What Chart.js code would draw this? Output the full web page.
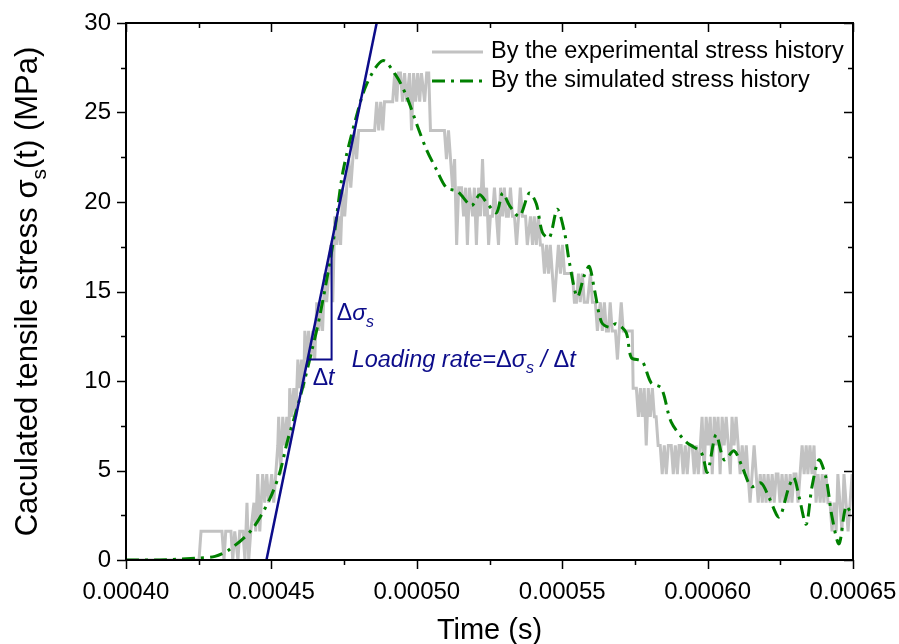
<!DOCTYPE html>
<html>
<head>
<meta charset="utf-8">
<title>Caculated tensile stress</title>
<script src="https://cdn.jsdelivr.net/npm/chart.js@4.4.1/dist/chart.umd.min.js"></script>
<style>
  html, body { margin: 0; padding: 0; background: #fff; }
  #wrap { width: 899px; height: 644px; }
</style>
</head>
<body>
<div id="wrap"><canvas id="stress-chart" width="899" height="644"></canvas></div>
<script>
// ------------------------------------------------------
// Data (time in microseconds, stress in MPa)
// ------------------------------------------------------
const expTime = [
  400.0, 425.1, 425.8, 433.0, 433.7, 434.3, 436.1, 436.7, 437.4, 438.5, 439.1, 440.2, 440.9, 441.6, 442.2, 442.9,
  444.0, 444.6, 445.3, 446.0, 447.0, 447.7, 448.4, 449.1, 450.1, 450.8, 451.5, 452.2, 452.5, 453.2, 453.9, 454.6,
  455.3, 456.0, 456.3, 457.0, 457.7, 458.4, 459.1, 459.8, 460.4, 461.1, 461.5, 462.2, 462.8, 463.5, 464.2, 464.9,
  465.6, 466.3, 467.0, 467.6, 468.3, 469.0, 469.7, 470.4, 471.1, 471.8, 472.5, 473.1, 473.8, 474.5, 475.2, 475.9,
  476.6, 477.3, 478.0, 478.6, 479.3, 480.0, 485.5, 486.2, 486.9, 487.6, 488.3, 488.9, 491.7, 492.4, 493.1, 493.7,
  494.4, 495.1, 495.8, 496.5, 497.5, 498.2, 498.9, 499.6, 500.3, 501.0, 501.6, 502.7, 503.4, 504.1, 504.7, 509.5,
  510.2, 510.9, 511.6, 512.3, 513.0, 513.7, 514.4, 515.4, 516.1, 516.8, 517.4, 518.1, 519.2, 519.8, 520.5, 521.2,
  521.9, 522.6, 523.3, 524.0, 524.7, 525.3, 526.0, 526.7, 527.4, 528.1, 528.8, 529.5, 530.1, 530.8, 531.5, 532.2,
  532.9, 533.6, 534.3, 535.0, 535.6, 536.3, 537.4, 538.0, 539.1, 539.8, 540.4, 541.1, 541.8, 542.5, 543.2, 543.9,
  544.6, 545.3, 545.9, 546.6, 547.3, 548.0, 548.7, 549.4, 550.1, 550.8, 551.8, 552.5, 553.5, 554.2, 554.9, 555.6,
  556.2, 556.9, 557.6, 558.7, 559.7, 560.4, 561.4, 562.1, 563.1, 563.8, 564.5, 565.2, 565.9, 566.5, 567.2, 568.3,
  569.0, 569.6, 570.3, 571.0, 572.0, 574.1, 574.4, 575.5, 576.2, 576.9, 577.5, 578.2, 578.9, 579.6, 580.3, 581.0,
  581.7, 582.3, 583.0, 583.7, 584.4, 585.1, 585.8, 586.5, 587.5, 588.2, 588.9, 589.6, 590.2, 590.9, 591.6, 592.3,
  593.0, 593.7, 594.7, 595.4, 596.1, 596.8, 597.5, 598.1, 598.8, 599.5, 600.2, 600.9, 601.6, 602.3, 603.0, 603.6,
  604.3, 605.0, 605.7, 606.4, 607.1, 607.8, 608.4, 609.1, 609.8, 610.5, 611.2, 611.9, 612.6, 613.3, 613.9, 614.6,
  615.3, 616.0, 616.7, 617.4, 618.1, 618.8, 619.4, 620.1, 620.8, 621.5, 622.2, 622.9, 623.6, 624.2, 624.9, 625.6,
  626.3, 627.0, 627.7, 628.4, 629.0, 629.7, 630.4, 631.1, 631.8, 632.5, 633.2, 633.9, 634.5, 635.2, 635.9, 636.6,
  637.3, 638.0, 638.7, 639.4, 640.0, 640.7, 641.4, 642.1, 642.8, 643.5, 644.2, 644.8, 645.5, 646.2, 646.9, 647.6,
  648.3, 649.0, 649.7
];
const expStress = [
  0, 0, 1.6, 1.6, 0, 1.6, 1.6, 0, 1.6, 0, 1.6, 1.6, 0, 3.2, 0, 1.6,
  3.2, 1.6, 4.8, 1.6, 4.8, 3.2, 4.8, 3.2, 4.8, 3.2, 4.8, 6.4, 8.0, 4.8, 8.0, 6.4,
  8.0, 6.4, 9.6, 8.0, 9.6, 8.0, 11.2, 9.6, 11.2, 9.6, 12.8, 11.2, 12.8, 11.2, 12.8, 11.2,
  14.4, 12.8, 14.4, 12.8, 16.0, 14.4, 16.0, 17.6, 14.4, 19.2, 17.6, 19.2, 17.6, 20.8, 19.2, 20.8,
  22.4, 20.8, 22.4, 24.0, 22.4, 24.0, 24.0, 25.6, 24.0, 25.6, 24.0, 25.6, 25.6, 27.2, 25.6, 27.2,
  27.2, 25.6, 27.2, 25.6, 27.2, 24.0, 27.2, 25.6, 27.2, 25.6, 27.2, 25.6, 27.2, 27.2, 24.0, 24.0,
  22.4, 24.0, 22.4, 20.8, 22.4, 17.6, 20.8, 20.8, 19.2, 20.8, 17.6, 20.8, 19.2, 20.8, 17.6, 20.8,
  19.2, 22.4, 19.2, 20.8, 17.6, 19.2, 19.2, 20.8, 19.2, 17.6, 20.8, 19.2, 20.8, 19.2, 19.2, 20.8,
  19.2, 19.2, 17.6, 19.2, 20.8, 19.2, 19.2, 17.6, 19.2, 17.6, 19.2, 17.6, 19.2, 17.6, 17.6, 16.0,
  17.6, 16.0, 17.6, 16.0, 14.4, 16.0, 17.6, 16.0, 17.6, 16.0, 16.0, 16.0, 16.0, 14.4, 14.4, 16.0,
  14.4, 16.0, 14.4, 14.4, 16.0, 14.4, 14.4, 12.8, 14.4, 12.8, 14.4, 12.8, 12.8, 14.4, 12.8, 12.8,
  11.2, 12.8, 14.4, 12.8, 12.8, 12.8, 9.6, 9.6, 8.0, 9.6, 8.0, 9.6, 6.4, 9.6, 8.0, 9.6,
  8.0, 8.0, 6.4, 6.4, 4.8, 6.4, 4.8, 6.4, 6.4, 4.8, 6.4, 4.8, 6.4, 6.4, 4.8, 6.4,
  4.8, 6.4, 6.4, 4.8, 6.4, 4.8, 6.4, 8.0, 4.8, 8.0, 6.4, 8.0, 4.8, 8.0, 6.4, 8.0,
  4.8, 8.0, 6.4, 8.0, 6.4, 4.8, 8.0, 6.4, 8.0, 6.4, 4.8, 6.4, 4.8, 6.4, 4.8, 3.2,
  4.8, 6.4, 4.8, 3.2, 4.8, 3.2, 4.8, 3.2, 4.8, 3.2, 4.8, 3.2, 4.8, 4.8, 3.2, 4.8,
  3.2, 4.8, 3.2, 4.8, 3.2, 4.8, 4.8, 3.2, 4.8, 6.4, 4.8, 6.4, 4.8, 6.4, 4.8, 6.4,
  3.2, 4.8, 3.2, 4.8, 3.2, 4.8, 3.2, 3.2, 1.6, 3.2, 1.6, 4.8, 3.2, 1.6, 4.8, 3.2,
  1.6, 3.2, 4.8
];

const simTime = [
  400.0, 411.7, 423.7, 430.6, 435.7, 443.3, 449.4, 452.9, 455.6, 458.7, 461.5, 463.9, 466.6, 471.1, 474.5, 478.6,
  482.8, 488.3, 493.1, 496.5, 500.3, 503.4, 506.8, 510.2, 514.0, 518.8, 521.6, 524.3, 527.4, 529.5, 531.9, 535.3,
  538.7, 541.1, 543.2, 545.6, 548.3, 550.8, 552.5, 555.2, 557.6, 559.3, 561.1, 563.5, 566.2, 568.6, 572.0, 573.8,
  577.5, 580.6, 584.1, 587.5, 592.6, 597.8, 599.9, 602.9, 605.7, 609.1, 611.9, 615.0, 618.4, 621.1, 624.6, 628.0,
  629.7, 631.5, 633.9, 635.9, 638.3, 640.7, 642.8, 645.2, 647.6, 649.7
];
const simStress = [
  0, 0, 0.1, 0.2, 0.6, 1.7, 3.4, 4.9, 6.7, 8.4, 10.1, 11.7, 13.6, 17.6, 21.6, 24.4,
  26.6, 27.9, 27.0, 25.9, 24.2, 22.9, 21.8, 20.8, 20.6, 19.8, 20.4, 19.9, 19.4, 20.5, 19.8, 19.2,
  20.5, 19.9, 18.3, 18.0, 19.6, 18.3, 16.6, 14.7, 15.9, 16.4, 15.1, 13.3, 13.0, 13.2, 12.7, 11.3,
  11.1, 9.9, 9.6, 7.7, 6.6, 6.0, 4.9, 7.0, 5.6, 6.1, 5.2, 4.1, 4.3, 3.5, 2.4, 4.1,
  4.6, 3.5, 2.0, 4.1, 5.6, 4.6, 2.4, 0.9, 3.0, 2.5
];

// loading-rate line and its slope triangle
const rateTime = [448.3, 486.2];
const rateStress = [0, 30];
const triTime = [462.4, 470.7, 470.7];
const triStress = [11.2, 11.2, 17.7];

const xTicks = [400, 450, 500, 550, 600, 650];
const xMinor = [425, 475, 525, 575, 625];
const yTicks = [0, 5, 10, 15, 20, 25, 30];
const yMinor = [2.5, 7.5, 12.5, 17.5, 22.5, 27.5];

const seriesLabels = ["By the experimental stress history", "By the simulated stress history"];

const GRAY = "#c2c2c2";
const GREEN = "#008000";
const NAVY = "#0c0c8a";
const FONT = "'Liberation Sans', Arial, sans-serif";
const SIM_DASH = [13, 6, 3, 6];

function toPoints(xs, ys) {
  const out = [];
  for (let i = 0; i < xs.length; i++) {
    out.push({ x: xs[i], y: ys[i] });
  }
  return out;
}

// scales keep the plot box fixed, no extra room for edge labels
function noPad(s) {
  s.paddingLeft = 0;
  s.paddingRight = 0;
  s.paddingTop = 0;
  s.paddingBottom = 0;
}

// ------------------------------------------------------
// Text with italic / subscript runs
// ------------------------------------------------------
function runFont(p, size) {
  const s = p.sub ? Math.round(size * 0.68) : size;
  return (p.italic ? "italic " : "") + s + "px " + FONT;
}

function richWidth(ctx, parts, size) {
  let w = 0;
  for (const p of parts) {
    ctx.font = runFont(p, size);
    w += ctx.measureText(p.text).width;
  }
  return w;
}

function drawRich(ctx, parts, x, y, size) {
  ctx.textBaseline = "alphabetic";
  ctx.textAlign = "left";
  let cx = x;
  for (const p of parts) {
    ctx.font = runFont(p, size);
    ctx.fillText(p.text, cx, p.sub ? y + size * 0.28 : y);
    cx += ctx.measureText(p.text).width;
  }
}

// ------------------------------------------------------
// Frame, mirrored ticks, titles, legend and notes
// ------------------------------------------------------
const decorPlugin = {
  id: "decor",
  afterDraw(chart) {
    const ctx = chart.ctx;
    const a = chart.chartArea;
    const xs = chart.scales.x;
    const ys = chart.scales.y;
    const MAJ = 9, MIN = 5;

    ctx.save();
    ctx.strokeStyle = "#000";
    ctx.lineWidth = 1.5;
    ctx.beginPath();
    xTicks.forEach(v => {
      const px = Math.round(xs.getPixelForValue(v)) + 0.5;
      ctx.moveTo(px, a.bottom); ctx.lineTo(px, a.bottom + MAJ);
      ctx.moveTo(px, a.top); ctx.lineTo(px, a.top + MAJ);
    });
    xMinor.forEach(v => {
      const px = Math.round(xs.getPixelForValue(v)) + 0.5;
      ctx.moveTo(px, a.bottom); ctx.lineTo(px, a.bottom + MIN);
      ctx.moveTo(px, a.top); ctx.lineTo(px, a.top + MIN);
    });
    yTicks.forEach(v => {
      const py = Math.round(ys.getPixelForValue(v)) + 0.5;
      ctx.moveTo(a.left, py); ctx.lineTo(a.left - MAJ, py);
      ctx.moveTo(a.right, py); ctx.lineTo(a.right - MAJ, py);
    });
    yMinor.forEach(v => {
      const py = Math.round(ys.getPixelForValue(v)) + 0.5;
      ctx.moveTo(a.left, py); ctx.lineTo(a.left - MIN, py);
      ctx.moveTo(a.right, py); ctx.lineTo(a.right - MIN, py);
    });
    ctx.stroke();

    ctx.lineWidth = 2;
    ctx.strokeRect(a.left, a.top, a.right - a.left, a.bottom - a.top);

    // axis titles
    ctx.fillStyle = "#000";
    ctx.font = "29px " + FONT;
    ctx.textAlign = "center";
    ctx.textBaseline = "alphabetic";
    ctx.fillText("Time (s)", (a.left + a.right) / 2, 639);

    const yTitle = [
      { text: "Caculated tensile stress σ" },
      { text: "s", sub: true },
      { text: "(t) (MPa)" }
    ];
    ctx.save();
    ctx.translate(37, (a.top + a.bottom) / 2);
    ctx.rotate(-Math.PI / 2);
    const tw = richWidth(ctx, yTitle, 31);
    drawRich(ctx, yTitle, -tw / 2, 0, 31);
    ctx.restore();

    // legend
    ctx.lineWidth = 3;
    ctx.strokeStyle = GRAY;
    ctx.beginPath(); ctx.moveTo(432, 52); ctx.lineTo(483, 52); ctx.stroke();
    ctx.strokeStyle = GREEN;
    ctx.setLineDash(SIM_DASH);
    ctx.beginPath(); ctx.moveTo(432, 81); ctx.lineTo(483, 81); ctx.stroke();
    ctx.setLineDash([]);
    ctx.fillStyle = "#000";
    ctx.font = "23.5px " + FONT;
    ctx.textAlign = "left";
    ctx.textBaseline = "middle";
    ctx.fillText(seriesLabels[0], 491, 52);
    ctx.fillText(seriesLabels[1], 491, 81);

    // loading-rate notes
    ctx.fillStyle = NAVY;
    drawRich(ctx, [{ text: "Δ" }, { text: "σ", italic: true }, { text: "s", italic: true, sub: true }],
      xs.getPixelForValue(472.5), ys.getPixelForValue(13.4), 23);
    drawRich(ctx, [{ text: "Δ" }, { text: "t", italic: true }],
      xs.getPixelForValue(464.2), ys.getPixelForValue(9.8), 23);
    drawRich(ctx, [
      { text: "Loading rate=", italic: true },
      { text: "Δ" },
      { text: "σ", italic: true },
      { text: "s", italic: true, sub: true },
      { text: " / ", italic: true },
      { text: "Δ" },
      { text: "t", italic: true }
    ], xs.getPixelForValue(477.6), ys.getPixelForValue(10.8), 23.5);
    ctx.restore();
  }
};

// ------------------------------------------------------
// Chart
// ------------------------------------------------------
Chart.defaults.font.family = FONT;
Chart.defaults.color = "#000";

new Chart(document.getElementById("stress-chart"), {
  type: "line",
  data: {
    datasets: [
      {
        label: "rate",
        data: toPoints(rateTime, rateStress),
        borderColor: NAVY,
        borderWidth: 2.5,
        pointRadius: 0,
        order: 0
      },
      {
        label: "triangle",
        data: toPoints(triTime, triStress),
        borderColor: NAVY,
        borderWidth: 2,
        pointRadius: 0,
        order: 0
      },
      {
        label: seriesLabels[1],
        data: toPoints(simTime, simStress),
        borderColor: GREEN,
        borderWidth: 3,
        borderDash: SIM_DASH,
        pointRadius: 0,
        tension: 0.3,
        order: 1
      },
      {
        label: seriesLabels[0],
        data: toPoints(expTime, expStress),
        borderColor: GRAY,
        borderWidth: 3,
        pointRadius: 0,
        tension: 0,
        order: 2
      }
    ]
  },
  options: {
    responsive: false,
    animation: false,
    events: [],
    layout: { padding: { top: 23, right: 46, left: 0, bottom: 0 } },
    plugins: {
      legend: { display: false },
      tooltip: { enabled: false }
    },
    scales: {
      x: {
        type: "linear",
        min: 400,
        max: 650,
        afterBuildTicks: s => { s.ticks = xTicks.map(v => ({ value: v })); },
        afterFit: s => { s.height = 84; noPad(s); },
        grid: { display: false },
        border: { display: false },
        ticks: {
          callback: v => (v * 1e-6).toFixed(5),
          font: { size: 24 },
          padding: 10,
          maxRotation: 0,
          autoSkip: false
        }
      },
      y: {
        type: "linear",
        min: 0,
        max: 30,
        afterBuildTicks: s => { s.ticks = yTicks.map(v => ({ value: v })); },
        afterFit: s => { s.width = 126; noPad(s); },
        grid: { display: false },
        border: { display: false },
        ticks: {
          font: { size: 24 },
          padding: 7
        }
      }
    }
  },
  plugins: [decorPlugin]
});
</script>
</body>
</html>
